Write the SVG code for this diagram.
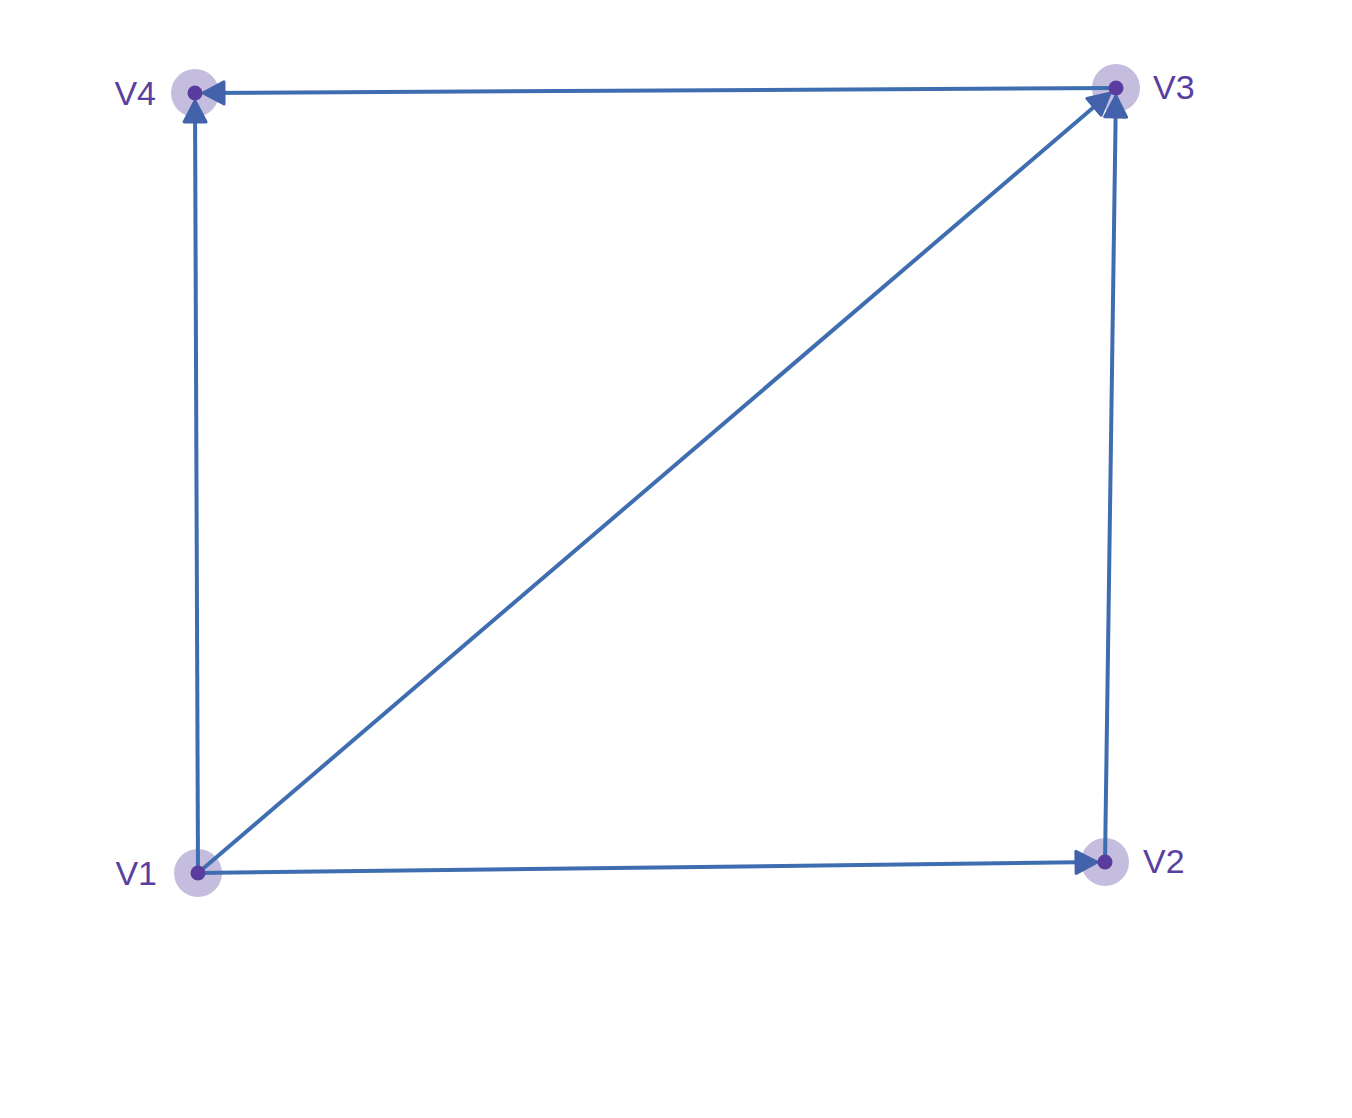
<svg xmlns="http://www.w3.org/2000/svg" width="1352" height="1118" viewBox="0 0 1352 1118">
<style>
.halo{fill:#c5bddd}
.dot{fill:#5a3c9f}
.lbl{font-family:"Liberation Sans",Arial,sans-serif;font-size:34px;fill:#5a3fa0}
.edge{stroke:#3f6eb0;stroke-width:4;fill:none;marker-end:url(#arr)}
</style>
<defs>
<marker id="arr" markerUnits="userSpaceOnUse" viewBox="0 0 28 28" markerWidth="28" markerHeight="28" refX="24" refY="14" orient="auto">
<path d="M3,3 L24,14 L3,25 Z" fill="#4262ab" stroke="#4262ab" stroke-width="3" stroke-linejoin="round"/>
</marker>
</defs>
<rect width="1352" height="1118" fill="#ffffff"/>
<g id="nodes-halo">
<g id="V1"><circle class="halo" cx="198" cy="873" r="24"/></g>
<g id="V2"><circle class="halo" cx="1105" cy="862" r="24"/></g>
<g id="V3"><circle class="halo" cx="1116" cy="88" r="24"/></g>
<g id="V4"><circle class="halo" cx="195" cy="93" r="24"/></g>
</g>
<g id="connectors">
<line class="edge" x1="198" y1="873" x2="195" y2="101"/>
<line class="edge" x1="198" y1="873" x2="1110" y2="93.2"/>
<line class="edge" x1="198" y1="873" x2="1097" y2="862.1"/>
<line class="edge" x1="1105" y1="862" x2="1115.9" y2="96"/>
<line class="edge" x1="1116" y1="88" x2="203" y2="93"/>
</g>
<g id="node-V1"><circle class="dot" cx="198" cy="873" r="7.5"/><text class="lbl" x="157" y="885" text-anchor="end">V1</text></g>
<g id="node-V2"><circle class="dot" cx="1105" cy="862" r="7.5"/><text class="lbl" x="1143" y="873">V2</text></g>
<g id="node-V3"><circle class="dot" cx="1116" cy="88" r="7.5"/><text class="lbl" x="1153" y="99">V3</text></g>
<g id="node-V4"><circle class="dot" cx="195" cy="93" r="7.5"/><text class="lbl" x="156" y="105" text-anchor="end">V4</text></g>
</svg>
